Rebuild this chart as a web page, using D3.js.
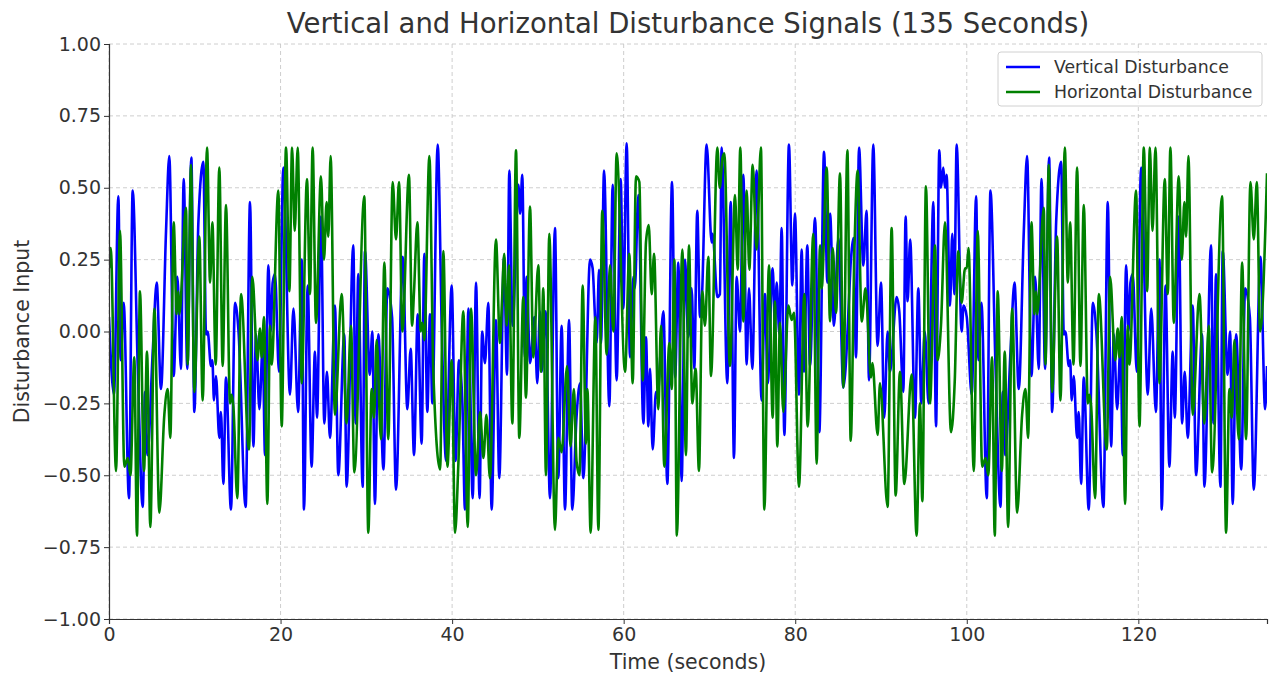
<!DOCTYPE html>
<html>
<head>
<meta charset="utf-8">
<script src="https://cdn.jsdelivr.net/npm/d3@7"></script>
<style>
  html, body { margin: 0; padding: 0; background: #fff; }
  svg { display: block; font-family: "DejaVu Sans", sans-serif; }
</style>
</head>
<body>
<svg id="chart" width="1271" height="677"></svg>
<script>
// Disturbance signals: [time in seconds, input] turning points of each trace
const verticalDisturbance = [
  [0,0.05],[0.58,-0.22],[1.09,0.47],[1.36,-0.10],[1.71,0.10],[2.33,-0.58],[2.76,0.49],[3.35,-0.12],
  [3.93,-0.61],[4.20,-0.21],[4.47,-0.43],[5.1,-0.07],[5.56,0.17],[6.06,-0.20],[6.65,0.35],[7.03,0.61],
  [7.54,-0.155],[7.97,0.19],[8.39,-0.13],[8.71,0.53],[9.13,-0.13],[9.60,0.605],[9.95,-0.28],[10.42,0.38],
  [11.0,0.59],[11.31,-0.01],[11.5,0.0],[11.89,-0.12],[12.05,-0.10],[12.24,-0.24],[12.47,-0.155],[12.86,-0.37],
  [13.05,-0.28],[13.33,-0.53],[13.64,-0.16],[14.22,-0.62],[14.69,0.10],[15.1,0.0],[15.93,-0.61],[16.44,0.45],
  [16.83,-0.40],[17.14,-0.01],[17.53,-0.27],[17.92,-0.05],[18.19,-0.43],[18.58,0.23],[18.85,0.0],[19.08,0.17],
  [19.35,0.20],[19.82,-0.14],[20.33,0.57],[21.1,-0.22],[21.5,0.08],[22.05,-0.28],[22.46,0.25],[22.73,-0.62],
  [23.16,0.16],[23.62,-0.47],[24.01,-0.07],[24.25,-0.30],[24.71,0.40],[25.1,-0.32],[25.41,-0.14],[25.76,-0.37],
  [26.34,0.09],[26.73,-0.50],[27.43,-0.01],[27.7,-0.54],[28.48,0.30],[28.75,-0.32],[29.06,0.20],[29.57,-0.54],
  [29.84,0.28],[30.4,-0.15],[30.7,0.0],[31.0,-0.60],[31.4,-0.01],[32.0,-0.48],[32.45,0.15],[33.0,0.05],
  [33.46,-0.55],[34.24,0.26],[34.78,-0.27],[35.17,-0.06],[35.56,-0.43],[35.99,0.06],[36.45,-0.39],[36.76,0.27],
  [37.11,-0.28],[37.42,0.06],[37.7,-0.25],[38.32,0.65],[38.8,0.0],[39.3,-0.45],[39.95,0.16],[40.4,-0.45],
  [40.8,-0.10],[41.2,-0.25],[41.5,-0.62],[41.9,0.08],[42.4,-0.58],[42.79,0.17],[43.2,-0.58],[43.5,0.0],
  [43.83,-0.11],[44.22,0.10],[44.61,-0.62],[45.11,0.04],[45.5,-0.51],[46.05,0.26],[46.4,-0.15],[46.67,0.56],
  [47.05,0.02],[47.72,0.51],[47.93,0.41],[48.18,0.545],[48.49,-0.09],[48.69,0.19],[49.08,-0.11],[49.6,0.05],
  [49.93,-0.18],[50.24,0.07],[50.44,-0.14],[50.9,0.07],[51.41,-0.58],[51.99,0.36],[52.38,-0.51],[52.77,0.02],
  [53.16,-0.62],[53.63,0.04],[54.01,-0.62],[54.5,-0.3],[54.91,-0.18],[55.3,-0.51],[56.08,0.25],[56.38,0.22],
  [56.66,0.05],[56.85,-0.04],[57.13,0.215],[57.36,-0.04],[57.71,0.56],[58.33,-0.26],[58.72,0.51],[59.18,-0.17],
  [59.65,0.53],[59.96,0.08],[60.35,0.655],[60.74,-0.09],[61.13,0.19],[61.3,0.15],[61.71,0.475],[62.3,-0.32],
  [62.6,-0.02],[62.88,-0.33],[63.07,-0.13],[63.38,-0.41],[63.77,-0.21],[63.93,-0.23],[64.63,0.07],[65.09,-0.53],
  [65.64,0.52],[66.0,-0.16],[66.37,0.24],[66.76,-0.52],[67.15,0.25],[67.53,-0.02],[67.92,0.15],[68.23,-0.13],
  [68.58,0.42],[68.9,0.05],[69.1,0.1],[69.67,0.65],[70.26,0.31],[70.37,0.34],[70.92,0.12],[71.22,0.13],
  [71.42,0.64],[72.08,-0.18],[72.47,0.45],[72.86,-0.44],[73.17,0.19],[73.56,0.0],[73.95,0.545],[74.34,-0.115],
  [74.61,0.15],[75.0,-0.13],[75.5,0.56],[76.08,-0.24],[76.47,0.13],[76.79,-0.18],[77.37,0.22],[77.64,0.02],
  [77.84,0.17],[78.15,-0.01],[78.42,0.36],[78.73,-0.36],[79.27,0.65],[79.66,0.16],[79.97,0.41],[80.44,-0.22],
  [80.75,0.285],[81.02,-0.14],[81.41,0.30],[81.72,-0.12],[82.31,0.395],[82.81,-0.35],[83.36,0.625],[83.75,0.17],
  [84.06,0.41],[84.52,0.02],[85.03,0.325],[85.61,-0.195],[86.78,0.325],[87.09,-0.09],[87.44,0.64],[87.94,0.23],
  [88.32,0.42],[88.6,-0.17],[89.1,0.65],[89.6,-0.05],[90.0,0.17],[90.38,-0.30],[90.77,0.0],[91.05,-0.14],
  [91.82,0.12],[92.13,0.07],[92.6,-0.21],[92.87,0.40],[93.1,0.105],[93.4,0.32],[93.96,-0.30],[94.35,0.15],
  [94.7,-0.25],[95.1,0.0],[95.55,-0.25],[96.1,0.45],[96.41,-0.33],[96.8,0.63],[96.99,0.50],[97.26,0.57],
  [97.46,0.50],[97.65,0.545],[98.04,0.09],[98.31,0.34],[98.55,0.13],[98.82,0.65],[99.4,0.0],[99.63,0.09],
  [100,0.05],[100.58,-0.22],[101.09,0.47],[101.36,-0.10],[101.71,0.10],[102.33,-0.58],[102.76,0.49],[103.35,-0.12],
  [103.93,-0.61],[104.20,-0.21],[104.47,-0.43],[105.1,-0.07],[105.56,0.17],[106.06,-0.20],[106.65,0.35],[107.03,0.61],
  [107.54,-0.155],[107.97,0.19],[108.39,-0.13],[108.71,0.53],[109.13,-0.13],[109.60,0.605],[109.95,-0.28],[110.42,0.38],
  [111.0,0.59],[111.31,-0.01],[111.5,0.0],[111.89,-0.12],[112.05,-0.10],[112.24,-0.24],[112.47,-0.155],[112.86,-0.37],
  [113.05,-0.28],[113.33,-0.53],[113.64,-0.16],[114.22,-0.62],[114.69,0.10],[115.1,0.0],[115.93,-0.61],[116.44,0.45],
  [116.83,-0.40],[117.14,-0.01],[117.53,-0.27],[117.92,-0.05],[118.19,-0.43],[118.58,0.23],[118.85,0.0],[119.08,0.17],
  [119.35,0.20],[119.82,-0.14],[120.33,0.57],[121.1,-0.22],[121.5,0.08],[122.05,-0.28],[122.46,0.25],[122.73,-0.62],
  [123.16,0.16],[123.62,-0.47],[124.01,-0.07],[124.25,-0.30],[124.71,0.40],[125.1,-0.32],[125.41,-0.14],[125.76,-0.37],
  [126.34,0.09],[126.73,-0.50],[127.43,-0.01],[127.7,-0.54],[128.48,0.30],[128.75,-0.32],[129.06,0.20],[129.57,-0.54],
  [129.84,0.28],[130.4,-0.15],[130.7,0.0],[131.0,-0.60],[131.4,-0.01],[132.0,-0.48],[132.45,0.15],[133.0,0.05],
  [133.46,-0.55],[134.24,0.26],[134.78,-0.27],[135,-0.12]
];

const horizontalDisturbance = [
  [0,0.22],[0.2,0.29],[0.82,-0.485],[1.28,0.35],[1.79,-0.47],[2.2,-0.44],[2.5,-0.5],[2.95,-0.09],
  [3.26,-0.71],[3.61,0.14],[4.08,-0.485],[4.43,-0.07],[4.82,-0.68],[5.29,0.08],[5.87,-0.63],[6.45,-0.29],
  [6.84,-0.20],[7.15,-0.37],[7.54,0.38],[7.89,0.06],[8.08,0.14],[8.2,0.06],[8.98,0.43],[9.17,-0.115],
  [9.56,0.58],[9.95,-0.21],[10.53,0.33],[10.92,-0.24],[11.43,0.64],[11.78,0.17],[12.05,0.38],[12.44,-0.115],
  [12.86,0.57],[13.25,-0.12],[13.64,0.44],[14.11,-0.25],[14.3,-0.22],[14.5,-0.26],[14.96,-0.58],[15.39,0.13],
  [16.32,-0.41],[16.71,0.19],[17.3,-0.10],[17.6,0.01],[17.8,-0.09],[18.07,0.05],[18.46,-0.60],[18.77,0.02],
  [18.96,-0.115],[19.74,0.49],[20.13,-0.33],[20.64,0.64],[21.03,0.14],[21.34,0.64],[21.65,0.35],[22.0,0.64],
  [22.46,-0.18],[23.08,0.53],[23.43,0.13],[23.74,0.64],[24.13,0.03],[24.71,0.54],[25.06,0.25],[25.37,0.45],
  [25.57,0.33],[25.84,0.61],[26.34,-0.29],[27.12,0.13],[27.7,-0.32],[28.21,0.02],[28.6,-0.49],[29.76,0.47],
  [30.23,-0.70],[30.62,-0.2],[30.9,-0.3],[31.2,-0.03],[31.71,-0.375],[32.1,0.24],[32.56,-0.375],[33.07,0.52],
  [33.46,0.32],[33.81,0.52],[34.2,0.0],[34.97,0.545],[35.33,0.02],[35.56,0.14],[35.95,0.38],[36.34,0.0],
  [36.53,0.03],[36.76,-0.03],[37.35,0.61],[37.81,-0.14],[38.6,-0.48],[38.98,0.28],[39.45,-0.47],[39.95,-0.10],
  [40.34,-0.70],[40.73,-0.46],[41.31,0.07],[41.82,-0.68],[42.2,0.08],[42.79,-0.50],[43.26,-0.28],[43.65,-0.44],
  [44.0,-0.29],[44.41,-0.51],[45.11,0.32],[45.58,-0.04],[45.78,0.08],[46.08,0.27],[46.36,0.02],[46.63,0.23],
  [47.02,-0.32],[47.45,0.63],[47.83,-0.37],[48.3,0.12],[48.61,-0.23],[49.08,0.435],[49.47,-0.09],[50.05,0.23],
  [50.36,-0.14],[50.63,0.15],[50.94,-0.50],[51.33,0.34],[51.99,-0.69],[52.38,-0.37],[52.77,-0.42],[53.4,-0.12],
  [53.8,-0.40],[54.2,-0.2],[54.5,-0.45],[54.85,-0.5],[55.22,0.16],[55.61,-0.39],[55.77,-0.20],[56.15,-0.70],
  [56.7,0.05],[57.05,-0.69],[57.51,0.42],[58.02,-0.08],[58.41,0.23],[58.8,0.0],[59.18,0.62],[60.16,-0.14],
  [60.66,0.27],[61.05,-0.18],[61.44,0.54],[61.83,0.52],[62.22,-0.17],[62.6,0.31],[62.92,0.37],[63.27,0.13],
  [63.54,0.27],[64.04,-0.27],[64.35,0.02],[64.74,-0.47],[65.33,-0.04],[65.6,-0.2],[65.91,0.25],[66.2,-0.71],
  [66.84,0.285],[67.26,-0.43],[67.61,0.30],[68.0,-0.25],[68.39,-0.13],[68.78,-0.485],[69.17,0.14],[69.48,0.02],
  [69.87,0.26],[70.18,-0.155],[70.92,0.64],[71.2,0.5],[71.5,0.6],[71.73,0.62],[72.39,-0.12],[72.98,0.475],
  [73.29,0.215],[73.6,0.64],[73.95,0.035],[74.34,0.49],[74.65,0.215],[75.04,0.58],[75.5,0.285],[76.0,0.64],
  [76.4,-0.62],[76.94,0.23],[77.37,-0.30],[77.64,0.105],[77.91,-0.40],[78.22,0.03],[78.61,-0.28],[79.2,0.09],
  [79.58,0.04],[79.86,0.065],[80.44,-0.54],[81.06,0.13],[81.45,-0.33],[82.11,0.34],[82.5,-0.46],[82.89,0.30],
  [83.08,0.15],[83.67,0.57],[84.06,0.035],[84.37,0.29],[84.76,0.065],[85.22,0.55],[85.61,-0.195],[86.08,0.63],
  [86.47,-0.38],[86.9,0.28],[87.28,0.56],[87.75,0.035],[88.2,0.15],[88.83,-0.16],[89.0,-0.11],[89.61,-0.36],
  [89.88,-0.18],[90.77,-0.61],[91.24,0.36],[91.71,-0.57],[92.21,-0.14],[92.72,-0.53],[93.57,-0.15],[94.15,-0.71],
  [94.54,-0.25],[94.82,-0.59],[95.24,0.505],[95.71,-0.25],[96.29,0.30],[96.6,-0.10],[96.99,0.02],[97.46,0.38],
  [98.16,-0.35],[98.6,-0.17],[99.01,0.28],[99.4,0.1],[99.8,0.22],
  [100,0.22],[100.2,0.29],[100.82,-0.485],[101.28,0.35],[101.79,-0.47],[102.2,-0.44],[102.5,-0.5],[102.95,-0.09],
  [103.26,-0.71],[103.61,0.14],[104.08,-0.485],[104.43,-0.07],[104.82,-0.68],[105.29,0.08],[105.87,-0.63],[106.45,-0.29],
  [106.84,-0.20],[107.15,-0.37],[107.54,0.38],[107.89,0.06],[108.08,0.14],[108.2,0.06],[108.98,0.43],[109.17,-0.115],
  [109.56,0.58],[109.95,-0.21],[110.53,0.33],[110.92,-0.24],[111.43,0.64],[111.78,0.17],[112.05,0.38],[112.44,-0.115],
  [112.86,0.57],[113.25,-0.12],[113.64,0.44],[114.11,-0.25],[114.3,-0.22],[114.5,-0.26],[114.96,-0.58],[115.39,0.13],
  [116.32,-0.41],[116.71,0.19],[117.3,-0.10],[117.6,0.01],[117.8,-0.09],[118.07,0.05],[118.46,-0.60],[118.77,0.02],
  [118.96,-0.115],[119.74,0.49],[120.13,-0.33],[120.64,0.64],[121.03,0.14],[121.34,0.64],[121.65,0.35],[122.0,0.64],
  [122.46,-0.18],[123.08,0.53],[123.43,0.13],[123.74,0.64],[124.13,0.03],[124.71,0.54],[125.06,0.25],[125.37,0.45],
  [125.57,0.33],[125.84,0.61],[126.34,-0.29],[127.12,0.13],[127.7,-0.32],[128.21,0.02],[128.6,-0.49],[129.76,0.47],
  [130.23,-0.70],[130.62,-0.2],[130.9,-0.3],[131.2,-0.03],[131.71,-0.375],[132.1,0.24],[132.56,-0.375],[133.07,0.52],
  [133.46,0.32],[133.81,0.52],[134.2,0.0],[135,0.55]
];

const yTickValues = [-1.0, -0.75, -0.5, -0.25, 0.0, 0.25, 0.5, 0.75, 1.0];
const xTickValues = [0, 20, 40, 60, 80, 100, 120];
const seriesNames = ["Vertical Disturbance", "Horizontal Disturbance"];
const seriesColors = ["#0000ff", "#008000"];

const svg = d3.select("#chart");
const margin = { left: 109, top: 44, right: 4, bottom: 58 };
const W = 1271, H = 677;
const plotW = W - margin.left - margin.right;
const plotH = H - margin.top - margin.bottom;

const x = d3.scaleLinear().domain([0, 135]).range([0, plotW]);
const y = d3.scaleLinear().domain([-1, 1]).range([plotH, 0]);

const g = svg.append("g").attr("transform", `translate(${margin.left},${margin.top})`);

// grid
g.append("g").selectAll("line").data(xTickValues).join("line")
  .attr("x1", d => x(d)).attr("x2", d => x(d))
  .attr("y1", 0).attr("y2", plotH)
  .attr("stroke", "#c8c8c8").attr("stroke-width", 0.9).attr("stroke-dasharray", "4,3");
g.append("g").selectAll("line").data(yTickValues).join("line")
  .attr("x1", 0).attr("x2", plotW)
  .attr("y1", d => y(d)).attr("y2", d => y(d))
  .attr("stroke", "#c8c8c8").attr("stroke-width", 0.9).attr("stroke-dasharray", "4,3");

// clip for the traces
svg.append("defs").append("clipPath").attr("id", "plot-clip")
  .append("rect").attr("x", 0).attr("y", -2).attr("width", plotW).attr("height", plotH + 4);

const line = d3.line()
  .x(d => x(d[0]))
  .y(d => y(d[1]))
  .curve(d3.curveMonotoneX);

const traces = g.append("g").attr("clip-path", "url(#plot-clip)");
[verticalDisturbance, horizontalDisturbance].forEach((series, i) => {
  traces.append("path")
    .datum(series)
    .attr("fill", "none")
    .attr("stroke", seriesColors[i])
    .attr("stroke-width", 2.6)
    .attr("stroke-linejoin", "round")
    .attr("d", line);
});

// axes
const xAxis = d3.axisBottom(x).tickValues(xTickValues).tickFormat(d3.format("d")).tickSize(5).tickPadding(4);
const yAxis = d3.axisLeft(y).tickValues(yTickValues).tickFormat(d => d < 0 ? "\u2212" + d3.format(".2f")(-d) : d3.format(".2f")(d)).tickSize(5).tickPadding(3);

const gx = g.append("g").attr("transform", `translate(0,${plotH})`).call(xAxis);
const gy = g.append("g").call(yAxis);
[gx, gy].forEach(a => {
  a.selectAll("text").attr("font-size", 19).attr("fill", "#333").attr("font-family", "DejaVu Sans, sans-serif");
  a.selectAll("line").attr("stroke", "#333");
  a.select(".domain").attr("stroke", "#333").attr("stroke-width", 1.2);
});

// title and axis labels
svg.append("text")
  .attr("x", margin.left + plotW / 2).attr("y", 33)
  .attr("text-anchor", "middle").attr("font-size", 27.5).attr("fill", "#333")
  .text("Vertical and Horizontal Disturbance Signals (135 Seconds)");
svg.append("text")
  .attr("x", margin.left + plotW / 2).attr("y", 669)
  .attr("text-anchor", "middle").attr("font-size", 20.5).attr("fill", "#333")
  .text("Time (seconds)");
svg.append("text")
  .attr("transform", `translate(29,${margin.top + plotH / 2}) rotate(-90)`)
  .attr("text-anchor", "middle").attr("font-size", 20.5).attr("fill", "#333")
  .text("Disturbance Input");

// legend
const lg = svg.append("g").attr("transform", "translate(998,52)");
lg.append("rect").attr("width", 264).attr("height", 54).attr("rx", 3)
  .attr("fill", "#fff").attr("fill-opacity", 0.8).attr("stroke", "#d0d0d0");
seriesNames.forEach((name, i) => {
  const yy = 15 + i * 25;
  lg.append("line").attr("x1", 8).attr("x2", 42).attr("y1", yy).attr("y2", yy)
    .attr("stroke", seriesColors[i]).attr("stroke-width", 2.6);
  lg.append("text").attr("x", 56).attr("y", yy + 6).attr("font-size", 17.3).attr("fill", "#333").text(name);
});
</script>
</body>
</html>
